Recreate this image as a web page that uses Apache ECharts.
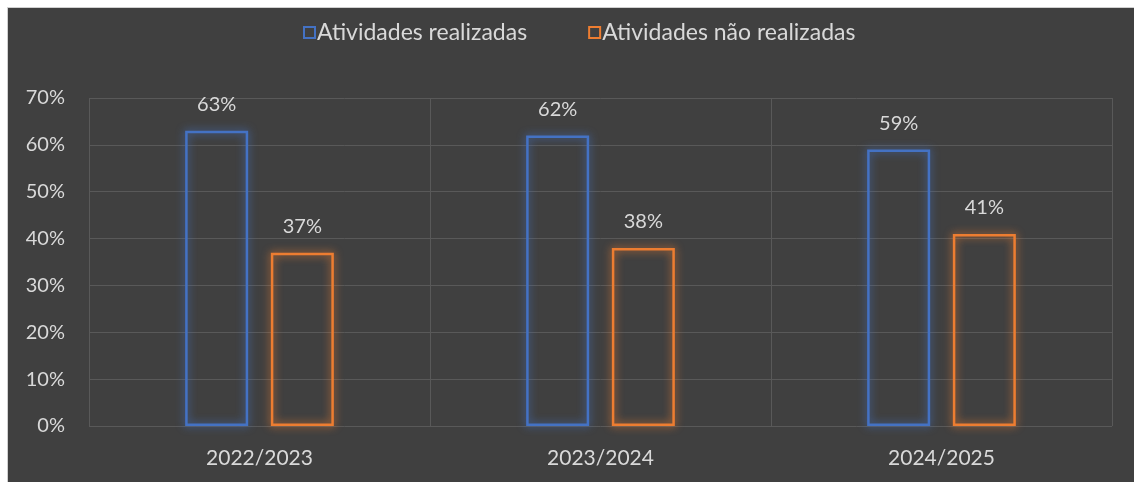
<!DOCTYPE html>
<html>
<head>
<meta charset="utf-8">
<script src="https://cdn.jsdelivr.net/npm/echarts@6/dist/echarts.min.js"></script>
<style>
  html, body { margin: 0; padding: 0; background: #ffffff; }
  .chart-frame {
    position: absolute;
    left: 7px;
    top: 7px;
    width: 1127px;
    height: 475px;
    border-left: 1px solid #d0d0d0;
    border-top: 1px solid #d0d0d0;
    background: #404040;
  }
  #chart { width: 1126px; height: 474px; }
</style>
</head>
<body>
<div class="chart-frame"><div id="chart"></div></div>
<script>
// dados do gráfico
const categories = ['2022/2023', '2023/2024', '2024/2025'];
const realizadas = [63, 62, 59];
const naoRealizadas = [37, 38, 41];
const seriesNames = ['Atividades realizadas', 'Atividades não realizadas'];

const textColor = '#d9d9d9';
const gridColor = '#595959';
const fontFamily = 'Lato';

const barSeries = (name, data, color, glow) => ({
  name,
  type: 'bar',
  data,
  barWidth: 63,
  barGap: '36%',
  itemStyle: {
    color: 'rgba(0,0,0,0)',
    borderColor: color,
    borderWidth: 2.5,
    shadowBlur: 9,
    shadowColor: glow
  },
  label: {
    show: true,
    position: 'top',
    distance: 16,
    color: textColor,
    fontFamily,
    fontSize: 20,
    formatter: (p) => p.value + '%'
  }
});

const chart = echarts.init(document.getElementById('chart'));

chart.setOption({
  backgroundColor: '#404040',
  animation: false,
  legend: {
    top: 8,
    left: 290,
    itemWidth: 11,
    itemHeight: 11,
    itemGap: 61,
    icon: 'rect',
    data: [
      { name: seriesNames[0], itemStyle: { color: 'rgba(0,0,0,0)', borderColor: '#4472C4', borderWidth: 2 } },
      { name: seriesNames[1], itemStyle: { color: 'rgba(0,0,0,0)', borderColor: '#ED7D31', borderWidth: 2 } }
    ],
    textStyle: { color: textColor, fontFamily, fontSize: 23, padding: [0, 0, 0, -3] }
  },
  grid: {
    left: 81,
    right: 22,
    top: 90,
    bottom: 56,
    containLabel: false
  },
  xAxis: {
    type: 'category',
    data: categories,
    axisLine: { show: false },
    axisTick: { show: false },
    axisLabel: { color: textColor, fontFamily, fontSize: 21, margin: 22 },
    splitLine: { show: true, lineStyle: { color: gridColor, width: 1 } }
  },
  yAxis: {
    type: 'value',
    min: 0,
    max: 70,
    interval: 10,
    axisLine: { show: false },
    axisTick: { show: false },
    axisLabel: {
      color: textColor,
      fontFamily,
      fontSize: 20,
      margin: 24,
      formatter: (v) => v + '%'
    },
    splitLine: { lineStyle: { color: gridColor, width: 1 } }
  },
  series: [
    barSeries(seriesNames[0], realizadas, '#4472C4', 'rgba(68,114,196,1)'),
    barSeries(seriesNames[1], naoRealizadas, '#ED7D31', 'rgba(237,125,49,1)')
  ]
});
</script>
</body>
</html>
